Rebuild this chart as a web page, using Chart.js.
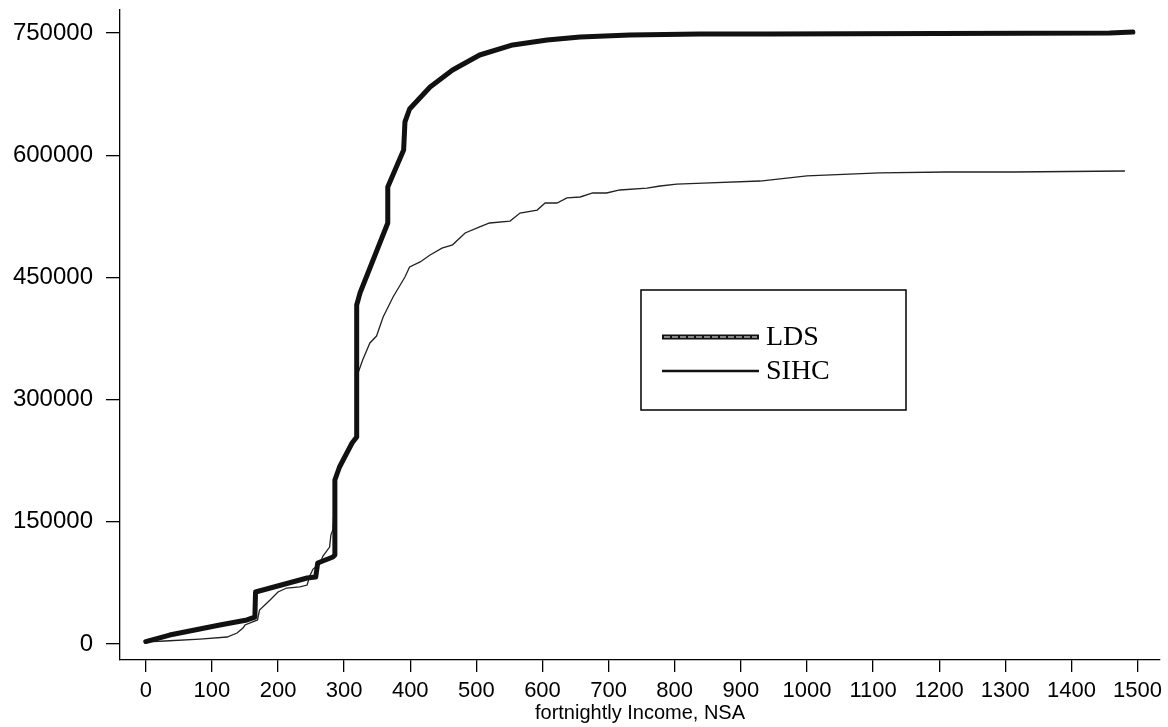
<!DOCTYPE html>
<html>
<head>
<meta charset="utf-8">
<script src="https://cdn.jsdelivr.net/npm/chart.js@4.4.0/dist/chart.umd.min.js"></script>
<style>
  html, body { margin: 0; padding: 0; background: #fff; }
  #c { display: block; }
</style>
</head>
<body>
<canvas id="c" width="1168" height="727"></canvas>
<script>
// ---- Data ----
const ldsX = [0, 36, 112, 153, 165, 166, 244, 257, 260, 283, 286, 286, 293, 312, 319, 319, 324, 366, 366, 377, 390, 392, 399, 430, 464, 505, 555, 607, 657, 732, 838, 940, 1458, 1493];
const ldsY = [3000, 11000, 23300, 29500, 33100, 63800, 81000, 82200, 99400, 106800, 109200, 201300, 217300, 246700, 254100, 416100, 430800, 516800, 561000, 581800, 606400, 640800, 656700, 683700, 704600, 723000, 735300, 741400, 745100, 747600, 748800, 748800, 750000, 751200];

const sihcX = [0, 29, 82, 123, 138, 147, 150, 169, 172, 188, 200, 213, 233, 244, 248, 253, 263, 268, 278, 280, 283, 287, 293, 312, 319, 321, 328, 339, 349, 359, 374, 392, 399, 415, 430, 448, 464, 483, 505, 520, 551, 566, 592, 604, 622, 637, 657, 676, 697, 717, 758, 778, 803, 843, 929, 1000, 1110, 1212, 1312, 1481];
const sihcY = [2500, 3700, 6100, 8600, 13500, 19600, 23300, 29500, 41700, 54000, 63800, 68700, 70000, 72400, 83500, 92000, 98200, 108000, 119000, 134000, 140000, 201000, 218500, 246700, 254000, 332600, 348600, 369500, 378000, 401400, 426000, 450500, 462800, 469000, 477500, 486000, 490000, 504500, 512000, 516800, 519200, 529000, 532700, 541300, 541300, 547500, 548700, 553600, 553600, 557300, 559700, 562200, 564600, 565800, 568300, 574500, 578200, 579400, 579400, 580600];

const xTicks = [0, 100, 200, 300, 400, 500, 600, 700, 800, 900, 1000, 1100, 1200, 1300, 1400, 1500];
const yTicks = [0, 150000, 300000, 450000, 600000, 750000];

const seriesNames = ['LDS', 'SIHC'];
const xTitle = 'fortnightly Income, NSA';

// ---- Build chart ----
const toPts = (xs, ys) => xs.map((x, i) => ({ x: x, y: ys[i] }));

const legendBox = {
  id: 'legendBox',
  afterDraw(chart) {
    const ctx = chart.ctx;
    ctx.save();
    ctx.strokeStyle = '#000';
    ctx.lineWidth = 1.5;
    ctx.strokeRect(641, 290, 265, 120);
    ctx.lineCap = 'butt';
    ctx.beginPath();
    ctx.strokeStyle = '#111';
    ctx.lineWidth = 5;
    ctx.moveTo(662, 337); ctx.lineTo(759, 337);
    ctx.stroke();
    ctx.beginPath();
    ctx.strokeStyle = '#fff';
    ctx.lineWidth = 1.2;
    ctx.setLineDash([6, 2]);
    ctx.moveTo(664, 337); ctx.lineTo(757, 337);
    ctx.stroke();
    ctx.setLineDash([]);
    ctx.beginPath();
    ctx.strokeStyle = '#111';
    ctx.lineWidth = 2.5;
    ctx.moveTo(662, 371); ctx.lineTo(759, 371);
    ctx.stroke();
    ctx.fillStyle = '#000';
    ctx.font = '28px "Liberation Serif", "Times New Roman", serif';
    ctx.textBaseline = 'middle';
    ctx.textAlign = 'left';
    ctx.fillText(seriesNames[0], 766, 338);
    ctx.fillText(seriesNames[1], 766, 372);
    ctx.restore();
  }
};

new Chart(document.getElementById('c'), {
  type: 'scatter',
  data: {
    datasets: [
      {
        label: seriesNames[0],
        data: toPts(ldsX, ldsY),
        showLine: true,
        borderColor: '#111',
        borderWidth: 5,
        pointRadius: 0,
        tension: 0,
        borderJoinStyle: 'round',
        borderCapStyle: 'round',
        order: 1
      },
      {
        label: seriesNames[1],
        data: toPts(sihcX, sihcY),
        showLine: true,
        borderColor: '#222',
        borderWidth: 1.3,
        pointRadius: 0,
        tension: 0,
        order: 2
      }
    ]
  },
  options: {
    responsive: false,
    animation: false,
    events: [],
    layout: { padding: { top: 10, right: 8, left: 0, bottom: 0 } },
    plugins: {
      legend: { display: false },
      tooltip: { enabled: false },
      title: { display: false }
    },
    scales: {
      x: {
        type: 'linear',
        min: -39,
        max: 1534,
        afterBuildTicks: (axis) => { axis.ticks = xTicks.map(v => ({ value: v })); },
        afterFit: (s) => { s.height = 67; s.paddingLeft = 0; s.paddingRight = 0; },
        border: { display: true, color: '#000', width: 1.3 },
        grid: { drawOnChartArea: false, drawTicks: true, tickLength: 12, color: '#000', lineWidth: 1.3 },
        ticks: {
          autoSkip: false,
          maxRotation: 0,
          padding: 6,
          color: '#000',
          font: { family: '"Liberation Sans", Arial, sans-serif', size: 22 },
          callback: (v) => String(v)
        },
        title: {
          display: true,
          text: xTitle,
          color: '#000',
          font: { family: '"Liberation Sans", Arial, sans-serif', size: 20 },
          padding: { top: 0, bottom: 2 }
        }
      },
      y: {
        type: 'linear',
        min: -19640,
        max: 778230,
        afterBuildTicks: (axis) => { axis.ticks = yTicks.map(v => ({ value: v })); },
        afterFit: (s) => { s.width = 120; s.paddingTop = 0; s.paddingBottom = 0; },
        border: { display: true, color: '#000', width: 1.3 },
        grid: { drawOnChartArea: false, drawTicks: true, tickLength: 14, color: '#000', lineWidth: 1.3 },
        ticks: {
          autoSkip: false,
          padding: 13,
          color: '#000',
          font: { family: '"Liberation Sans", Arial, sans-serif', size: 24 },
          callback: (v) => String(v)
        }
      }
    }
  },
  plugins: [legendBox]
});
</script>
</body>
</html>
